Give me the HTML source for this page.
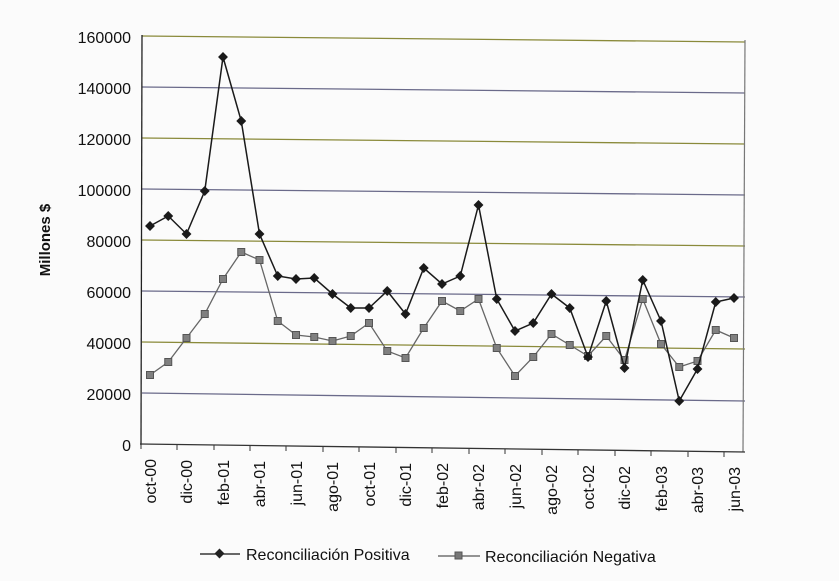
<!DOCTYPE html>
<html><head><meta charset="utf-8"><style>
body{margin:0;background:#fdfdfd;}
svg{display:block;font-family:"Liberation Sans",sans-serif;}
</style></head><body>
<svg width="839" height="581" viewBox="0 0 839 581" xmlns="http://www.w3.org/2000/svg">
<rect width="839" height="581" fill="#fbfbfb"/>
<g id="grid" stroke-width="1.3">
<line x1="142" y1="36" x2="745" y2="42" stroke="#8a8a3a"/>
<line x1="142" y1="87" x2="745" y2="93" stroke="#6a6a8a"/>
<line x1="142" y1="138" x2="745" y2="144" stroke="#8a8a3a"/>
<line x1="142" y1="189" x2="745" y2="195" stroke="#6a6a8a"/>
<line x1="142" y1="240" x2="745" y2="246" stroke="#8a8a3a"/>
<line x1="142" y1="291" x2="745" y2="297" stroke="#6a6a8a"/>
<line x1="142" y1="342" x2="745" y2="349" stroke="#8a8a3a"/>
<line x1="142" y1="393" x2="745" y2="401" stroke="#6a6a8a"/>
</g>
<line x1="142" y1="35" x2="141" y2="445" stroke="#222" stroke-width="1.3"/>
<line x1="745" y1="40" x2="743" y2="452" stroke="#777" stroke-width="1.2"/>
<line x1="140" y1="444" x2="745" y2="452" stroke="#333" stroke-width="1.3"/>
<g stroke="#333" stroke-width="1">
<line x1="141" y1="444" x2="141" y2="449"/><line x1="177" y1="445" x2="177" y2="450"/><line x1="214" y1="445" x2="214" y2="450"/><line x1="250" y1="446" x2="250" y2="451"/><line x1="286" y1="446" x2="286" y2="451"/><line x1="323" y1="447" x2="323" y2="452"/><line x1="359" y1="447" x2="359" y2="452"/><line x1="396" y1="448" x2="396" y2="453"/><line x1="432" y1="448" x2="432" y2="453"/><line x1="469" y1="449" x2="469" y2="454"/><line x1="505" y1="449" x2="505" y2="454"/><line x1="542" y1="450" x2="542" y2="455"/><line x1="578" y1="450" x2="578" y2="455"/><line x1="615" y1="451" x2="615" y2="456"/><line x1="651" y1="451" x2="651" y2="456"/><line x1="688" y1="452" x2="688" y2="457"/><line x1="724" y1="452" x2="724" y2="457"/>
</g>
<g font-size="16" fill="#111" text-anchor="end">
<text x="131" y="43">160000</text><text x="131" y="94">140000</text><text x="131" y="145">120000</text><text x="131" y="196">100000</text><text x="131" y="247">80000</text><text x="131" y="298">60000</text><text x="131" y="349">40000</text><text x="131" y="400">20000</text><text x="131" y="451">0</text>
</g>
<text transform="translate(50,240) rotate(-90)" font-size="15" font-weight="bold" text-anchor="middle" fill="#111">Millones $</text>
<g font-size="16" fill="#111" text-anchor="end">
<text transform="translate(156,459) rotate(-90)">oct-00</text>
<text transform="translate(192,460) rotate(-90)">dic-00</text>
<text transform="translate(229,460) rotate(-90)">feb-01</text>
<text transform="translate(265,461) rotate(-90)">abr-01</text>
<text transform="translate(302,461) rotate(-90)">jun-01</text>
<text transform="translate(338,462) rotate(-90)">ago-01</text>
<text transform="translate(375,462) rotate(-90)">oct-01</text>
<text transform="translate(411,463) rotate(-90)">dic-01</text>
<text transform="translate(448,463) rotate(-90)">feb-02</text>
<text transform="translate(484,464) rotate(-90)">abr-02</text>
<text transform="translate(521,464) rotate(-90)">jun-02</text>
<text transform="translate(557,465) rotate(-90)">ago-02</text>
<text transform="translate(594,465) rotate(-90)">oct-02</text>
<text transform="translate(630,466) rotate(-90)">dic-02</text>
<text transform="translate(667,466) rotate(-90)">feb-03</text>
<text transform="translate(703,467) rotate(-90)">abr-03</text>
<text transform="translate(740,467) rotate(-90)">jun-03</text>
</g>
<g id="neg"></g><g id="pos"></g>
<g font-size="16" fill="#111">
<line x1="200" y1="554" x2="240" y2="554" stroke="#111" stroke-width="1.3"/>
<rect x="216" y="550" width="7" height="7" fill="#222" transform="rotate(45 219.5 553.5)"/>
<text x="246" y="560">Reconciliación Positiva</text>
<line x1="438" y1="556" x2="480" y2="556" stroke="#555" stroke-width="1.3"/>
<rect x="455" y="552" width="7" height="7" fill="#777" stroke="#555"/>
<text x="485" y="562">Reconciliación Negativa</text>
</g>
<script>
var pos=[226,216,234,191,57,121,234,276,279,278,294,308,308,291,314,268,284,276,205,299,331,323,294,308,357,301,368,280,321,401,369,302,298];
var neg=[375,362,338,314,279,252,260,321,335,337,341,336,323,351,358,328,301,311,299,348,376,357,334,345,356,336,360,299,344,367,361,330,338];
function x(i){return 150+18.25*i;}
var ns="http://www.w3.org/2000/svg";
function draw(id,d,col,lw,mk){
 var g=document.getElementById(id);
 var p=document.createElementNS(ns,"polyline");
 p.setAttribute("points",d.map(function(v,i){return x(i)+","+v;}).join(" "));
 p.setAttribute("fill","none");p.setAttribute("stroke",col);p.setAttribute("stroke-width",lw);
 g.appendChild(p);
 d.forEach(function(v,i){
  var r=document.createElementNS(ns,"rect");
  r.setAttribute("x",x(i)-3.5);r.setAttribute("y",v-3.5);r.setAttribute("width",7);r.setAttribute("height",7);
  if(mk){r.setAttribute("fill","#1a1a1a");r.setAttribute("transform","rotate(45 "+x(i)+" "+v+")");}
  else{r.setAttribute("fill","#808080");r.setAttribute("stroke","#555");}
  g.appendChild(r);
 });
}
draw("neg",neg,"#666",1.3,false);
draw("pos",pos,"#1a1a1a",1.5,true);
</script>
</svg>
</body></html>
